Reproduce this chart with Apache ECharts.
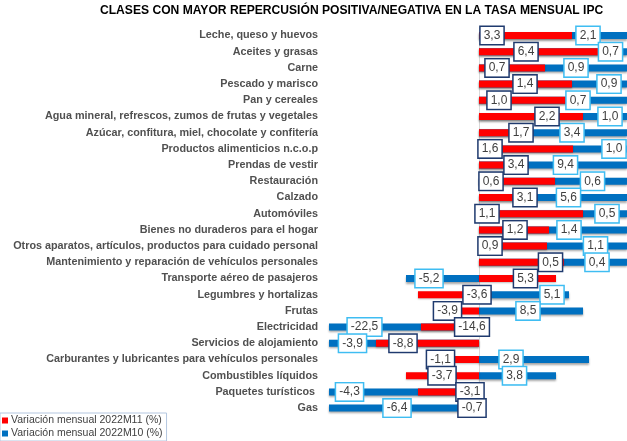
<!DOCTYPE html>
<html>
<head>
<meta charset="utf-8">
<script src="https://cdn.jsdelivr.net/npm/echarts@6/dist/echarts.min.js"></script>
<style>html,body{margin:0;padding:0;background:#fff}#c{width:627px;height:441px}</style>
</head>
<body>
<div id="c"></div>
<script>
// ---- data ----
const categories = [
  'Leche, queso y huevos',
  'Aceites y grasas',
  'Carne',
  'Pescado y marisco',
  'Pan y cereales',
  'Agua mineral, refrescos, zumos de frutas y vegetales',
  'Azúcar, confitura, miel, chocolate y confitería',
  'Productos alimenticios n.c.o.p',
  'Prendas de vestir',
  'Restauración',
  'Calzado',
  'Automóviles',
  'Bienes no duraderos para el hogar',
  'Otros aparatos, artículos, productos para cuidado personal',
  'Mantenimiento y reparación de vehículos personales',
  'Transporte aéreo de pasajeros',
  'Legumbres y hortalizas',
  'Frutas',
  'Electricidad',
  'Servicios de alojamiento',
  'Carburantes y lubricantes para vehículos personales',
  'Combustibles líquidos',
  'Paquetes turísticos ',
  'Gas'
];
// bar lengths (repercusión)
const repM11 = [0.093, 0.120, 0.066, 0.093, 0.096, 0.104, 0.041, 0.094, 0.036, 0.076, 0.046, 0.104,
                0.070, 0.068, 0.085, 0.077, -0.061, -0.045, -0.058, -0.103, -0.039, -0.073, -0.061, -0.010];
const repM10 = [0.19, 0.17, 0.21, 0.18, 0.20, 0.17, 0.22, 0.18, 0.25, 0.19, 0.23, 0.17,
                0.20, 0.18, 0.17, -0.073, 0.090, 0.104, -0.26, -0.21, 0.110, 0.077, -0.17, -0.19];
// data label values (variación mensual %)
const varM11 = [3.3, 6.4, 0.7, 1.4, 1.0, 2.2, 1.7, 1.6, 3.4, 0.6, 3.1, 1.1,
                1.2, 0.9, 0.5, 5.3, -3.6, -3.9, -14.6, -8.8, -1.1, -3.7, -3.1, -0.7];
const varM10 = [2.1, 0.7, 0.9, 0.9, 0.7, 1.0, 3.4, 1.0, 9.4, 0.6, 5.6, 0.5,
                1.4, 1.1, 0.4, -5.2, 5.1, 8.5, -22.5, -3.9, 2.9, 3.8, -4.3, -6.4];
const seriesNames = ['Variación mensual 2022M11 (%)', 'Variación mensual 2022M10 (%)'];

// ---- layout of the hand-placed data labels (axis units / px offsets) ----
const m11LabelX = [0.013, 0.047, 0.018, 0.046, 0.020, 0.068, 0.042, 0.011, 0.037, 0.012, 0.046, 0.008,
                   0.036, 0.011, 0.0715, 0.0465, -0.002, -0.0315, -0.007, -0.076, -0.0385, -0.037, -0.009, -0.007];
const m10LabelX = [0.109, 0.1315, 0.097, 0.130, 0.099, 0.131, 0.093, 0.135, 0.0865, 0.1135, 0.0895, 0.128,
                   0.090, 0.1165, 0.118, -0.050, 0.073, 0.049, -0.1145, -0.1265, 0.032, 0.0355, -0.1295, -0.082];
const m11Dy = [-5.5, -2, -3, -2, -2, -1, -1, 0, -0.5, 0, 1, -2, 0, 0, -1, -3, 0, -1.5, 0.5, -1.5, -4, 1, -5, -0.5];
const m10Dy = [-4.5, -2, -3.5, -1.5, -2, -1, 0, 0, -2.5, 0, 1, 1, 2, -5, 1, -1, -1.5, 2.5, -4, 0, -4, 0.5, -1, -1];

const RED = '#ff0000', BLUE = '#0070c0';
const fmt = v => v.toFixed(1).replace('.', ',');

function labelSeries(name, xs, dys, vals, border) {
  return {
    name: name + '_lbl', type: 'scatter', symbol: 'circle', symbolSize: 0, silent: true, clip: false, z: 10,
    itemStyle: { color: '#ffffff', opacity: 1 },
    emphasis: { disabled: true },
    data: xs.map((x, i) => ({ value: [x, i], label: { offset: [0, dys[i]] } })),
    label: {
      show: true, position: 'inside', opacity: 1,
      formatter: p => fmt(vals[p.dataIndex]),
      fontFamily: 'Liberation Sans', fontSize: 12, color: '#404040',
      textBorderWidth: 0,
      backgroundColor: '#ffffff', borderColor: border, borderWidth: 1.5,
      padding: [2, 3, 2, 3], lineHeight: 13
    },
    labelLayout: { hideOverlap: false }
  };
}

const chart = echarts.init(document.getElementById('c'), null, { renderer: 'canvas' });
chart.setOption({
  animation: false,
  backgroundColor: '#ffffff',
  title: {
    text: 'CLASES CON MAYOR REPERCUSIÓN POSITIVA/NEGATIVA EN LA TASA MENSUAL IPC',
    left: 95, top: 0,
    textStyle: { fontFamily: 'Liberation Sans', fontWeight: 'bold', fontSize: 12.1, color: '#000' }
  },
  legend: {
    data: seriesNames, orient: 'vertical', left: 0, top: 413,
    itemWidth: 6, itemHeight: 6, itemGap: 2, icon: 'rect',
    padding: [2, 4, 2, 2], borderColor: '#b4c7e0', borderWidth: 1,
    textStyle: { fontFamily: 'Liberation Sans', fontSize: 10.5, color: '#404040', padding: [0, 0, 0, -2] }
  },
  grid: { left: 329, top: 27.4, width: 298, height: 388.8, containLabel: false, outerBoundsMode: 'none' },
  xAxis: {
    type: 'value', min: -0.15, max: 0.148, interval: 0.15,
    axisLabel: { show: false }, axisLine: { show: false }, axisTick: { show: false },
    splitLine: { show: true, lineStyle: { color: ['rgba(0,0,0,0)', '#d9d9d9', 'rgba(0,0,0,0)', 'rgba(0,0,0,0)'], width: 1 } }
  },
  yAxis: {
    type: 'category', data: categories, inverse: true,
    axisLine: { show: false }, axisTick: { show: false },
    axisLabel: { margin: 11, fontFamily: 'Liberation Sans', fontWeight: 'bold', fontSize: 10.8, color: '#505050' }
  },
  series: [
    {
      name: seriesNames[1], type: 'bar', data: repM10, barWidth: 7, barGap: '-100%',
      itemStyle: { color: BLUE, shadowColor: 'rgba(0,0,0,0.35)', shadowBlur: 2, shadowOffsetY: 1.5 }
    },
    {
      name: seriesNames[0], type: 'bar', data: repM11, barWidth: 7, barGap: '-100%',
      itemStyle: { color: RED, shadowColor: 'rgba(0,0,0,0.25)', shadowBlur: 2, shadowOffsetY: 1 }
    },
    labelSeries('m10', m10LabelX, m10Dy, varM10, '#3fbdf2'),
    labelSeries('m11', m11LabelX, m11Dy, varM11, '#1f3a6e')
  ]
});
</script>
</body>
</html>
